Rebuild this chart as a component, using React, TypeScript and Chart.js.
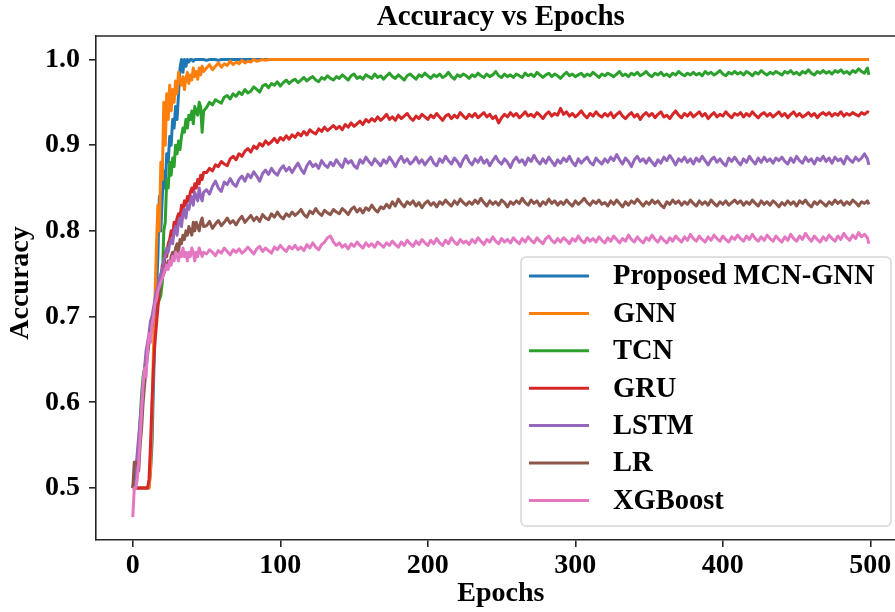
import { useEffect, useRef } from 'react';
import { Chart, registerables } from 'chart.js';

Chart.register(...registerables);

// Epoch positions of the recorded samples (every epoch up to 48, then every second)
const epochs = [
  0, 1, 2, 3, 4, 5, 6, 7, 8, 9, 10, 11, 12, 13, 14, 15, 16, 17, 18, 19,
  20, 21, 22, 23, 24, 25, 26, 27, 28, 29, 30, 31, 32, 33, 34, 35, 36, 37, 38, 39,
  40, 41, 42, 43, 44, 45, 46, 47, 48,
  50, 52, 54, 56, 58, 60, 62, 64, 66, 68, 70, 72, 74, 76, 78,
  80, 82, 84, 86, 88, 90, 92, 94, 96, 98, 100, 102, 104, 106, 108,
  110, 112, 114, 116, 118, 120, 122, 124, 126, 128, 130, 132, 134, 136, 138,
  140, 142, 144, 146, 148, 150, 152, 154, 156, 158, 160, 162, 164, 166, 168,
  170, 172, 174, 176, 178, 180, 182, 184, 186, 188, 190, 192, 194, 196, 198,
  200, 202, 204, 206, 208, 210, 212, 214, 216, 218, 220, 222, 224, 226, 228,
  230, 232, 234, 236, 238, 240, 242, 244, 246, 248, 250, 252, 254, 256, 258,
  260, 262, 264, 266, 268, 270, 272, 274, 276, 278, 280, 282, 284, 286, 288,
  290, 292, 294, 296, 298, 300, 302, 304, 306, 308, 310, 312, 314, 316, 318,
  320, 322, 324, 326, 328, 330, 332, 334, 336, 338, 340, 342, 344, 346, 348,
  350, 352, 354, 356, 358, 360, 362, 364, 366, 368, 370, 372, 374, 376, 378,
  380, 382, 384, 386, 388, 390, 392, 394, 396, 398, 400, 402, 404, 406, 408,
  410, 412, 414, 416, 418, 420, 422, 424, 426, 428, 430, 432, 434, 436, 438,
  440, 442, 444, 446, 448, 450, 452, 454, 456, 458, 460, 462, 464, 466, 468,
  470, 472, 474, 476, 478, 480, 482, 484, 486, 488, 490, 492, 494, 496, 498,
  499,
];

const proposedMcnGnn = [
  0.5, 0.5, 0.5, 0.5, 0.5, 0.5, 0.5, 0.5, 0.5, 0.5,
  0.5, 0.5, 0.52, 0.55, 0.62, 0.68, 0.73, 0.77, 0.84, 0.8,
  0.84, 0.87, 0.85, 0.89, 0.88, 0.91, 0.9, 0.93, 0.92, 0.945,
  0.93, 0.96, 0.99, 1, 0.985, 1, 0.992, 1, 0.997, 1,
  1, 0.998, 1, 1, 1, 1, 1, 1, 1,
  0.999, 1, 1, 1, 0.999, 1, 1, 1, 1, 1, 1, 1, 1, 1, 1,
  1, 1, 1, 1, 1, 1, 1, 1, 1, 1, 1, 1, 1, 1, 1,
  1, 1, 1, 1, 1, 1, 1, 1, 1, 1, 1, 1, 1, 1, 1,
  1, 1, 1, 1, 1, 1, 1, 1, 1, 1, 1, 1, 1, 1, 1,
  1, 1, 1, 1, 1, 1, 1, 1, 1, 1, 1, 1, 1, 1, 1,
  1, 1, 1, 1, 1, 1, 1, 1, 1, 1, 1, 1, 1, 1, 1,
  1, 1, 1, 1, 1, 1, 1, 1, 1, 1, 1, 1, 1, 1, 1,
  1, 1, 1, 1, 1, 1, 1, 1, 1, 1, 1, 1, 1, 1, 1,
  1, 1, 1, 1, 1, 1, 1, 1, 1, 1, 1, 1, 1, 1, 1,
  1, 1, 1, 1, 1, 1, 1, 1, 1, 1, 1, 1, 1, 1, 1,
  1, 1, 1, 1, 1, 1, 1, 1, 1, 1, 1, 1, 1, 1, 1,
  1, 1, 1, 1, 1, 1, 1, 1, 1, 1, 1, 1, 1, 1, 1,
  1, 1, 1, 1, 1, 1, 1, 1, 1, 1, 1, 1, 1, 1, 1,
  1, 1, 1, 1, 1, 1, 1, 1, 1, 1, 1, 1, 1, 1, 1,
  1, 1, 1, 1, 1, 1, 1, 1, 1, 1, 1, 1, 1, 1, 1,
  1,
];

const gnn = [
  0.5, 0.5, 0.5, 0.5, 0.5, 0.5, 0.5, 0.5, 0.5, 0.5,
  0.5, 0.5, 0.52, 0.58, 0.66, 0.72, 0.78, 0.83, 0.8, 0.88,
  0.86, 0.95, 0.9, 0.96, 0.93, 0.97, 0.94, 0.965, 0.95, 0.975,
  0.96, 0.985, 0.975, 0.97, 0.98, 0.965, 0.978, 0.985, 0.972, 0.982,
  0.976, 0.99, 0.98, 0.986, 0.977, 0.99, 0.982, 0.992, 0.986,
  0.99, 0.994, 0.988, 0.992, 0.996, 0.991, 0.995, 0.993, 0.998, 0.994, 0.997, 0.995, 0.999, 0.996, 0.998,
  0.997, 1, 0.998, 0.999, 1, 0.999, 1, 1, 1, 1, 1, 1, 1, 1, 1,
  1, 1, 1, 1, 1, 1, 1, 1, 1, 1, 1, 1, 1, 1, 1,
  1, 1, 1, 1, 1, 1, 1, 1, 1, 1, 1, 1, 1, 1, 1,
  1, 1, 1, 1, 1, 1, 1, 1, 1, 1, 1, 1, 1, 1, 1,
  1, 1, 1, 1, 1, 1, 1, 1, 1, 1, 1, 1, 1, 1, 1,
  1, 1, 1, 1, 1, 1, 1, 1, 1, 1, 1, 1, 1, 1, 1,
  1, 1, 1, 1, 1, 1, 1, 1, 1, 1, 1, 1, 1, 1, 1,
  1, 1, 1, 1, 1, 1, 1, 1, 1, 1, 1, 1, 1, 1, 1,
  1, 1, 1, 1, 1, 1, 1, 1, 1, 1, 1, 1, 1, 1, 1,
  1, 1, 1, 1, 1, 1, 1, 1, 1, 1, 1, 1, 1, 1, 1,
  1, 1, 1, 1, 1, 1, 1, 1, 1, 1, 1, 1, 1, 1, 1,
  1, 1, 1, 1, 1, 1, 1, 1, 1, 1, 1, 1, 1, 1, 1,
  1, 1, 1, 1, 1, 1, 1, 1, 1, 1, 1, 1, 1, 1, 1,
  1, 1, 1, 1, 1, 1, 1, 1, 1, 1, 1, 1, 1, 1, 1,
  1,
];

const tcn = [
  0.5, 0.51, 0.52, 0.53, 0.55, 0.58, 0.61, 0.63, 0.64, 0.65,
  0.66, 0.67, 0.68, 0.69, 0.7, 0.705, 0.71, 0.715, 0.72, 0.725,
  0.74, 0.8, 0.81, 0.86, 0.85, 0.88, 0.865, 0.885, 0.875, 0.9,
  0.89, 0.905, 0.895, 0.91, 0.92, 0.915, 0.93, 0.92, 0.935, 0.93,
  0.94, 0.925, 0.945, 0.94, 0.935, 0.95, 0.945, 0.915, 0.94,
  0.944, 0.95, 0.947, 0.953, 0.951, 0.949, 0.956, 0.958, 0.954, 0.96, 0.957, 0.962, 0.959, 0.965, 0.961,
  0.963, 0.968, 0.965, 0.962, 0.969, 0.971, 0.967, 0.972, 0.97, 0.974, 0.969, 0.973, 0.976, 0.972, 0.975,
  0.977, 0.973, 0.976, 0.979, 0.975, 0.978, 0.98, 0.976, 0.974, 0.979, 0.977, 0.981, 0.978, 0.976, 0.98,
  0.978, 0.982, 0.979, 0.976, 0.981, 0.983, 0.978, 0.98, 0.977, 0.982, 0.98, 0.978, 0.983, 0.979, 0.981,
  0.977, 0.981, 0.984, 0.98, 0.978, 0.982, 0.979, 0.976, 0.981, 0.983, 0.98, 0.977, 0.982, 0.98, 0.984,
  0.981, 0.978, 0.982, 0.98, 0.983, 0.979, 0.981, 0.985, 0.98, 0.977, 0.982, 0.98, 0.983, 0.981, 0.978,
  0.982, 0.98, 0.984, 0.981, 0.979, 0.983, 0.98, 0.982, 0.986, 0.981, 0.979, 0.983, 0.98, 0.982, 0.979,
  0.983, 0.981, 0.979, 0.984, 0.981, 0.983, 0.98, 0.985, 0.982, 0.979, 0.982, 0.984, 0.98, 0.983, 0.981,
  0.978, 0.982, 0.985, 0.981, 0.983, 0.98, 0.982, 0.984, 0.98, 0.983, 0.981, 0.985, 0.982, 0.979, 0.983,
  0.981, 0.984, 0.982, 0.98, 0.983, 0.986, 0.981, 0.983, 0.98, 0.984, 0.982, 0.985, 0.981, 0.983, 0.986,
  0.982, 0.98, 0.984, 0.982, 0.985, 0.981, 0.983, 0.98, 0.984, 0.982, 0.986, 0.983, 0.981, 0.984, 0.982,
  0.985, 0.982, 0.984, 0.981, 0.986, 0.983, 0.985, 0.982, 0.984, 0.987, 0.983, 0.981, 0.985, 0.983, 0.986,
  0.983, 0.985, 0.982, 0.986, 0.984, 0.981, 0.985, 0.983, 0.987, 0.984, 0.982, 0.985, 0.983, 0.986, 0.984,
  0.982, 0.986, 0.984, 0.987, 0.983, 0.985, 0.982, 0.986, 0.984, 0.988, 0.984, 0.982, 0.986, 0.984, 0.987,
  0.984, 0.986, 0.983, 0.987, 0.985, 0.988, 0.984, 0.986, 0.983, 0.987, 0.985, 0.989, 0.986, 0.984, 0.99,
  0.982,
];

const gru = [
  0.5, 0.5, 0.5, 0.5, 0.5, 0.5, 0.5, 0.5, 0.5, 0.5,
  0.5, 0.51, 0.55, 0.6, 0.64, 0.67, 0.69, 0.71, 0.73, 0.745,
  0.76, 0.755, 0.775, 0.77, 0.785, 0.79, 0.8, 0.795, 0.81, 0.805,
  0.815, 0.82, 0.815, 0.83, 0.825, 0.835, 0.83, 0.84, 0.835, 0.845,
  0.85, 0.845, 0.855, 0.85, 0.86, 0.855, 0.865, 0.86, 0.868,
  0.868, 0.873, 0.87, 0.877, 0.875, 0.881, 0.878, 0.876, 0.884, 0.887, 0.883, 0.89, 0.887, 0.893, 0.896,
  0.892, 0.899, 0.896, 0.902, 0.899, 0.905, 0.901, 0.904, 0.908, 0.903, 0.909, 0.906, 0.911, 0.907, 0.912,
  0.909, 0.914, 0.911, 0.916, 0.912, 0.918, 0.915, 0.913, 0.919, 0.916, 0.921, 0.917, 0.92, 0.923, 0.919,
  0.922, 0.918, 0.924, 0.921, 0.926, 0.922, 0.925, 0.928, 0.924, 0.93, 0.927, 0.931, 0.928, 0.933, 0.929,
  0.932, 0.936, 0.93, 0.933, 0.929, 0.935, 0.931, 0.934, 0.937, 0.932, 0.929, 0.934, 0.931, 0.936, 0.933,
  0.93, 0.935, 0.932, 0.937, 0.933, 0.929, 0.934, 0.936, 0.931, 0.935, 0.932, 0.938, 0.934, 0.931, 0.936,
  0.933, 0.937, 0.932, 0.935, 0.938, 0.933, 0.936, 0.931, 0.934, 0.926, 0.932, 0.936, 0.933, 0.938, 0.934,
  0.937, 0.932, 0.935, 0.939, 0.934, 0.936, 0.933, 0.938, 0.935, 0.931, 0.936, 0.939, 0.934, 0.937, 0.935,
  0.943, 0.936, 0.939, 0.934, 0.937, 0.933, 0.936, 0.94, 0.935, 0.932, 0.937, 0.934, 0.939, 0.935, 0.933,
  0.937, 0.934, 0.938, 0.932, 0.936, 0.939, 0.934, 0.931, 0.935, 0.938, 0.933, 0.936, 0.93, 0.935, 0.938,
  0.934, 0.937, 0.932, 0.936, 0.939, 0.933, 0.935, 0.931, 0.936, 0.94, 0.935, 0.932, 0.937, 0.934, 0.938,
  0.933, 0.936, 0.939, 0.934, 0.937, 0.931, 0.935, 0.938, 0.933, 0.936, 0.934, 0.939, 0.935, 0.932, 0.937,
  0.935, 0.938, 0.933, 0.937, 0.934, 0.939, 0.935, 0.932, 0.936, 0.938, 0.934, 0.937, 0.933, 0.936, 0.939,
  0.934, 0.937, 0.932, 0.936, 0.939, 0.934, 0.937, 0.933, 0.935, 0.938, 0.934, 0.937, 0.932, 0.936, 0.938,
  0.935, 0.938, 0.934, 0.937, 0.935, 0.939, 0.934, 0.937, 0.935, 0.938, 0.936, 0.934, 0.938, 0.936, 0.939,
  0.938,
];

const lstm = [
  0.5, 0.51, 0.52, 0.54, 0.56, 0.58, 0.6, 0.62, 0.64, 0.66,
  0.67, 0.68, 0.695, 0.7, 0.71, 0.72, 0.73, 0.735, 0.745, 0.75,
  0.755, 0.765, 0.77, 0.78, 0.775, 0.785, 0.79, 0.785, 0.8, 0.805,
  0.795, 0.81, 0.815, 0.805, 0.82, 0.825, 0.815, 0.83, 0.825, 0.835,
  0.84, 0.83, 0.845, 0.84, 0.835, 0.85, 0.84, 0.835, 0.845,
  0.848, 0.843, 0.852, 0.858, 0.85, 0.846, 0.857, 0.854, 0.861, 0.855, 0.852, 0.86, 0.864, 0.858, 0.866,
  0.862, 0.869, 0.864, 0.858, 0.867, 0.871, 0.866, 0.873, 0.868, 0.865, 0.872, 0.876, 0.87, 0.874, 0.868,
  0.874, 0.879, 0.872, 0.867, 0.876, 0.881, 0.875, 0.878, 0.873, 0.882, 0.877, 0.874, 0.88, 0.876, 0.883,
  0.878, 0.874, 0.884, 0.879, 0.882, 0.876, 0.873, 0.883, 0.879, 0.886, 0.881, 0.877, 0.884, 0.88, 0.876,
  0.883, 0.879, 0.886, 0.881, 0.875, 0.882, 0.887, 0.88, 0.884, 0.878, 0.881, 0.886, 0.879, 0.883, 0.877,
  0.882, 0.886, 0.879, 0.876, 0.884, 0.88, 0.887, 0.882, 0.878, 0.885, 0.881, 0.875, 0.883, 0.888, 0.881,
  0.877, 0.884, 0.88, 0.886, 0.879, 0.883, 0.876, 0.882, 0.887, 0.881, 0.878, 0.884, 0.88, 0.874, 0.882,
  0.886, 0.88, 0.883, 0.877, 0.885, 0.881, 0.888, 0.882, 0.878, 0.884, 0.879, 0.886, 0.881, 0.876, 0.883,
  0.879, 0.885, 0.881, 0.887, 0.88, 0.876, 0.884, 0.879, 0.883, 0.886, 0.88, 0.877, 0.885, 0.881, 0.878,
  0.884, 0.88, 0.886, 0.882, 0.889, 0.883, 0.878, 0.885, 0.881, 0.875, 0.883, 0.887, 0.881, 0.884, 0.879,
  0.885, 0.88, 0.876, 0.883, 0.879, 0.886, 0.882, 0.888, 0.883, 0.877, 0.884, 0.881, 0.886, 0.88, 0.884,
  0.878, 0.885, 0.881, 0.887, 0.882, 0.877, 0.883, 0.886, 0.88, 0.884, 0.879, 0.876, 0.885, 0.881, 0.886,
  0.881, 0.877, 0.884, 0.88, 0.887, 0.882, 0.878, 0.885, 0.88, 0.886, 0.881, 0.884, 0.879, 0.885, 0.882,
  0.886, 0.881, 0.878, 0.885, 0.88, 0.887, 0.882, 0.879, 0.886, 0.881, 0.884, 0.878, 0.885, 0.882, 0.887,
  0.881, 0.885, 0.879, 0.886, 0.882, 0.884, 0.878, 0.887, 0.883, 0.88, 0.886, 0.882, 0.885, 0.89, 0.884,
  0.877,
];

const lr = [
  0.5, 0.53, 0.53, 0.53, 0.52, 0.55, 0.57, 0.6, 0.62, 0.64,
  0.655, 0.67, 0.68, 0.69, 0.7, 0.71, 0.72, 0.725, 0.735, 0.74,
  0.745, 0.75, 0.755, 0.76, 0.765, 0.76, 0.77, 0.775, 0.77, 0.78,
  0.785, 0.775, 0.79, 0.785, 0.795, 0.79, 0.8, 0.795, 0.805, 0.8,
  0.795, 0.81, 0.8, 0.81, 0.805, 0.8, 0.81, 0.815, 0.805,
  0.806, 0.811, 0.803, 0.808, 0.812, 0.806, 0.81, 0.815, 0.809, 0.812, 0.807, 0.813, 0.817, 0.81, 0.814,
  0.818, 0.812, 0.816, 0.811, 0.819, 0.815, 0.813, 0.82, 0.816, 0.822, 0.817, 0.814, 0.82, 0.817, 0.822,
  0.818, 0.821, 0.825, 0.819, 0.816, 0.823, 0.82, 0.826, 0.821, 0.818, 0.824, 0.821, 0.819, 0.825, 0.822,
  0.82, 0.826, 0.823, 0.819, 0.825, 0.828, 0.822, 0.826, 0.821, 0.827, 0.824, 0.83, 0.825, 0.822, 0.828,
  0.826, 0.831, 0.827, 0.834, 0.829, 0.837, 0.832, 0.828, 0.834, 0.831, 0.835, 0.829, 0.833, 0.827, 0.832,
  0.835, 0.83, 0.833, 0.828, 0.834, 0.831, 0.836, 0.832, 0.829, 0.835, 0.831, 0.837, 0.833, 0.83, 0.834,
  0.831, 0.836, 0.832, 0.838, 0.833, 0.829, 0.835, 0.831, 0.834, 0.83, 0.836, 0.833, 0.828, 0.834, 0.831,
  0.835, 0.832, 0.838, 0.833, 0.83, 0.836, 0.832, 0.835, 0.829, 0.834, 0.831, 0.837, 0.832, 0.835, 0.83,
  0.834, 0.831, 0.836, 0.832, 0.829, 0.835, 0.831, 0.834, 0.838, 0.833, 0.83, 0.835, 0.832, 0.836, 0.831,
  0.833, 0.829, 0.835, 0.831, 0.836, 0.832, 0.828, 0.834, 0.83, 0.835, 0.832, 0.837, 0.833, 0.829, 0.834,
  0.831, 0.836, 0.832, 0.835, 0.83, 0.827, 0.834, 0.831, 0.836, 0.832, 0.835, 0.83, 0.834, 0.831, 0.836,
  0.832, 0.829, 0.835, 0.831, 0.834, 0.83, 0.836, 0.832, 0.829, 0.834, 0.831, 0.835, 0.83, 0.833, 0.836,
  0.832, 0.835, 0.83, 0.834, 0.831, 0.836, 0.832, 0.829, 0.835, 0.831, 0.834, 0.83, 0.835, 0.832, 0.828,
  0.833, 0.83, 0.835, 0.831, 0.834, 0.829, 0.835, 0.832, 0.836, 0.831, 0.828, 0.834, 0.831, 0.835, 0.832,
  0.829, 0.834, 0.831, 0.836, 0.832, 0.835, 0.83, 0.834, 0.831, 0.836, 0.833, 0.829, 0.834, 0.832, 0.835,
  0.831,
];

const xgboost = [
  0.466, 0.5, 0.5, 0.51, 0.53, 0.56, 0.59, 0.62, 0.64, 0.63,
  0.66, 0.68, 0.67, 0.69, 0.7, 0.715, 0.72, 0.73, 0.735, 0.74,
  0.745, 0.75, 0.755, 0.76, 0.755, 0.765, 0.76, 0.77, 0.765, 0.775,
  0.77, 0.765, 0.775, 0.77, 0.78, 0.77, 0.775, 0.765, 0.775, 0.77,
  0.78, 0.775, 0.765, 0.775, 0.77, 0.78, 0.775, 0.77, 0.775,
  0.773, 0.778, 0.775, 0.771, 0.777, 0.774, 0.78, 0.776, 0.772, 0.778, 0.775, 0.779, 0.774, 0.777, 0.781,
  0.777, 0.773, 0.779, 0.782, 0.776, 0.78, 0.777, 0.774, 0.781, 0.778, 0.783, 0.779, 0.776, 0.782, 0.779,
  0.783, 0.778, 0.781, 0.777, 0.784, 0.78, 0.786, 0.781, 0.778, 0.784, 0.787, 0.792, 0.794, 0.787, 0.783,
  0.786, 0.781, 0.784, 0.779, 0.785, 0.782, 0.787, 0.783, 0.78, 0.786, 0.782, 0.785, 0.781, 0.787, 0.784,
  0.781, 0.786, 0.783, 0.788, 0.784, 0.781, 0.787, 0.783, 0.789, 0.785, 0.782, 0.788, 0.784, 0.79, 0.786,
  0.783, 0.789, 0.785, 0.791, 0.786, 0.783, 0.789, 0.785, 0.792, 0.787, 0.784, 0.79, 0.786, 0.788, 0.784,
  0.79, 0.786, 0.792, 0.788, 0.784, 0.79, 0.787, 0.793, 0.788, 0.785, 0.791, 0.787, 0.79, 0.786, 0.792,
  0.788, 0.785, 0.791, 0.787, 0.793, 0.789, 0.786, 0.792, 0.788, 0.785, 0.791, 0.794, 0.789, 0.786, 0.791,
  0.787, 0.792, 0.789, 0.785, 0.791, 0.788, 0.794, 0.789, 0.786, 0.792, 0.788, 0.791, 0.787, 0.793, 0.789,
  0.786, 0.792, 0.788, 0.794, 0.79, 0.786, 0.791, 0.788, 0.795, 0.79, 0.787, 0.793, 0.789, 0.786, 0.792,
  0.789, 0.795, 0.79, 0.787, 0.793, 0.789, 0.786, 0.792, 0.788, 0.794, 0.79, 0.787, 0.793, 0.789, 0.796,
  0.791, 0.788, 0.794, 0.79, 0.787, 0.793, 0.789, 0.795, 0.791, 0.788, 0.794, 0.79, 0.787, 0.793, 0.79,
  0.795, 0.791, 0.788, 0.794, 0.79, 0.796, 0.791, 0.788, 0.793, 0.789, 0.795, 0.791, 0.788, 0.794, 0.79,
  0.787, 0.793, 0.789, 0.796, 0.791, 0.788, 0.794, 0.79, 0.797, 0.792, 0.788, 0.794, 0.79, 0.787, 0.793,
  0.789, 0.795, 0.791, 0.788, 0.794, 0.79, 0.797, 0.792, 0.789, 0.795, 0.791, 0.798, 0.793, 0.796, 0.792,
  0.785,
];

const seriesNames = ['Proposed MCN-GNN', 'GNN', 'TCN', 'GRU', 'LSTM', 'LR', 'XGBoost'];
const seriesValues = [proposedMcnGnn, gnn, tcn, gru, lstm, lr, xgboost];
const seriesColors = ['#1f77b4', '#ff7f0e', '#2ca02c', '#d62728', '#9467bd', '#8c564b', '#e377c2'];

const xTicks = [0, 100, 200, 300, 400, 500];
const yTicks = [0.5, 0.6, 0.7, 0.8, 0.9, 1.0];

const chartTitle = 'Accuracy vs Epochs';
const xTitle = 'Epochs';
const yTitle = 'Accuracy';

const FONT_FAMILY = '"Liberation Serif", "Times New Roman", serif';
const INK = '#000000';
const SPINE = '#262626';

// Frame, titles and the boxed legend drawn on top of the plotted lines
const decorations = {
  id: 'decorations',
  afterDraw(chart: any) {
    const { ctx, chartArea, scales } = chart;
    const x = scales.x;
    const axesCenterX = x.getPixelForValue(249.5);
    ctx.save();

    // top spine
    ctx.strokeStyle = SPINE;
    ctx.lineWidth = 1.6;
    ctx.beginPath();
    ctx.moveTo(chartArea.left - 0.8, chartArea.top);
    ctx.lineTo(chartArea.right, chartArea.top);
    ctx.stroke();

    ctx.fillStyle = INK;
    ctx.textAlign = 'center';
    ctx.textBaseline = 'alphabetic';
    ctx.font = `bold 29px ${FONT_FAMILY}`;
    ctx.fillText(chartTitle, axesCenterX, 25);
    ctx.font = `bold 28px ${FONT_FAMILY}`;
    ctx.fillText(xTitle, axesCenterX, 601);

    ctx.save();
    ctx.translate(21, (chartArea.top + chartArea.bottom) / 2 - 5);
    ctx.rotate(-Math.PI / 2);
    ctx.textBaseline = 'middle';
    ctx.fillText(yTitle, 0, 0);
    ctx.restore();

    // legend box
    const bx = 521, by = 257, bw = 370, bh = 269, r = 5;
    ctx.beginPath();
    ctx.moveTo(bx + r, by);
    ctx.lineTo(bx + bw - r, by);
    ctx.arcTo(bx + bw, by, bx + bw, by + r, r);
    ctx.lineTo(bx + bw, by + bh - r);
    ctx.arcTo(bx + bw, by + bh, bx + bw - r, by + bh, r);
    ctx.lineTo(bx + r, by + bh);
    ctx.arcTo(bx, by + bh, bx, by + bh - r, r);
    ctx.lineTo(bx, by + r);
    ctx.arcTo(bx, by, bx + r, by, r);
    ctx.closePath();
    ctx.fillStyle = 'rgba(255,255,255,0.8)';
    ctx.fill();
    ctx.strokeStyle = '#d6d6d6';
    ctx.lineWidth = 1.5;
    ctx.stroke();

    const rowTop = 276;
    const rowStep = 37.4;
    ctx.font = `bold 28.5px ${FONT_FAMILY}`;
    chart.data.datasets.forEach((ds: any, i: number) => {
      const y = rowTop + i * rowStep;
      ctx.strokeStyle = ds.borderColor;
      ctx.lineWidth = 3;
      ctx.beginPath();
      ctx.moveTo(529, y);
      ctx.lineTo(589, y);
      ctx.stroke();
      ctx.fillStyle = INK;
      ctx.textAlign = 'left';
      ctx.textBaseline = 'middle';
      ctx.fillText(ds.label, 613, y + 1);
    });

    ctx.restore();
  },
};

export default function App() {
  const canvasRef = useRef<HTMLCanvasElement>(null);

  useEffect(() => {
    const canvas = canvasRef.current;
    if (!canvas) return;
    const tickFont = { family: FONT_FAMILY, size: 28, weight: 'bold' as const };

    const chart = new Chart(canvas, {
      type: 'line',
      data: {
        labels: epochs,
        datasets: seriesNames.map((name, i) => ({
          label: name,
          data: seriesValues[i],
          borderColor: seriesColors[i],
          backgroundColor: seriesColors[i],
          borderWidth: 3,
          borderJoinStyle: 'round' as const,
          pointRadius: 0,
          tension: 0,
          fill: false,
          order: seriesNames.length - i,
        })),
      },
      options: {
        responsive: false,
        animation: false,
        devicePixelRatio: 1,
        layout: { padding: { top: 36, left: 0, right: 0, bottom: 0 } },
        plugins: {
          legend: { display: false },
          title: { display: false },
          tooltip: { enabled: false },
        },
        scales: {
          x: {
            type: 'linear',
            min: -24.95,
            max: 516.7,
            afterBuildTicks: (scale: any) => {
              scale.ticks = xTicks.map((v) => ({ value: v }));
            },
            afterFit: (scale: any) => {
              scale.height = 72;
            },
            ticks: {
              font: tickFont,
              color: INK,
              padding: 2,
              maxRotation: 0,
              autoSkip: false,
              callback: (v: any) => String(v),
            },
            grid: {
              drawOnChartArea: false,
              drawTicks: true,
              tickLength: 7,
              color: SPINE,
              lineWidth: 1.6,
            },
            border: { display: true, color: SPINE, width: 1.6 },
          },
          y: {
            type: 'linear',
            min: 0.4393,
            max: 1.0274,
            afterBuildTicks: (scale: any) => {
              scale.ticks = yTicks.map((v) => ({ value: v }));
            },
            afterFit: (scale: any) => {
              scale.width = 96;
            },
            ticks: {
              font: tickFont,
              color: INK,
              padding: 9,
              autoSkip: false,
              callback: (v: any) => Number(v).toFixed(1),
            },
            grid: {
              drawOnChartArea: false,
              drawTicks: true,
              tickLength: 7,
              color: SPINE,
              lineWidth: 1.6,
            },
            border: { display: true, color: SPINE, width: 1.6 },
          },
        },
      },
      plugins: [decorations],
    });

    return () => chart.destroy();
  }, []);

  return (
    <div style={{ position: 'fixed', left: 0, top: 0, width: 895, height: 612, background: '#ffffff' }}>
      <canvas ref={canvasRef} width={895} height={612} style={{ display: 'block', width: 895, height: 612 }} />
    </div>
  );
}
